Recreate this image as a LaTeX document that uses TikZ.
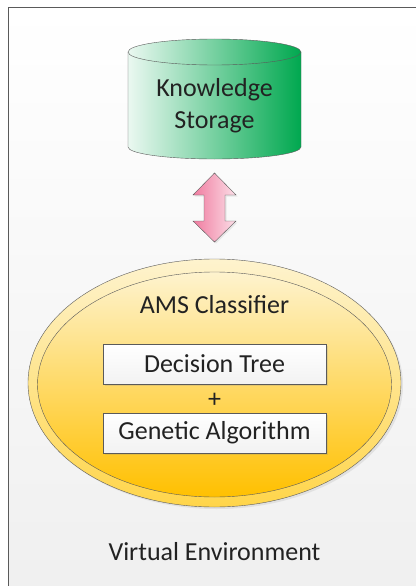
\documentclass[tikz,border=0pt]{standalone}
\usepackage{fontspec}
\setmainfont{Carlito}
\usetikzlibrary{shapes.geometric,shadows,positioning}

\definecolor{framegray}{HTML}{5A5A5A}
\definecolor{storegreen}{HTML}{00A84F}
\definecolor{paleyellow}{HTML}{FEF3CE}
\definecolor{gold}{HTML}{FFC000}
\definecolor{ringgold}{HTML}{FFD54A}
\definecolor{linkpink}{HTML}{F07CA0}
\definecolor{textgray}{HTML}{222222}

\tikzset{
  label text/.style={font=\fontsize{26}{32}\selectfont, text=textgray, align=center, inner sep=0pt},
  algobox/.style={label text, draw=framegray, minimum width=223pt, minimum height=40pt,
    top color=white, bottom color=gray!10,
    drop shadow={shadow xshift=2pt, shadow yshift=-2pt, opacity=0.2}},
  linkarrow/.style={draw=framegray, left color=linkpink, right color=linkpink!25,
    drop shadow={shadow xshift=1.5pt, shadow yshift=-1.5pt, opacity=0.15}}
}

\begin{document}
\begin{tikzpicture}[x=1pt,y=1pt]
  \useasboundingbox (0,0) rectangle (415,-586);

  % frame of the environment
  \fill[top color=white, bottom color=gray!12] (8,-7) rectangle (420,-590);
  \draw[framegray, thick] (8,-590) -- (8,-7) -- (420,-7);

  % storage cylinder
  \path[draw=framegray, left color=storegreen!8, right color=storegreen]
    (128,-52) -- (128,-147) arc[start angle=180, end angle=360, x radius=86.5, y radius=12]
    -- (301,-52) arc[start angle=0, end angle=180, x radius=86.5, y radius=13] -- cycle;
  \draw[framegray] (128,-52) arc[start angle=180, end angle=360, x radius=86.5, y radius=13];
  \node[label text] (store) at (214.5,-106) {Knowledge\\Storage};

  % classifier ellipse
  \node[ellipse, draw=framegray, minimum width=373pt, minimum height=248pt,
    top color=paleyellow, bottom color=ringgold,
    drop shadow={shadow xshift=2pt, shadow yshift=-2pt, opacity=0.15}] (ams) at (214.5,-383) {};
  \node[ellipse, draw=framegray, minimum width=354pt, minimum height=225pt,
    top color=paleyellow, bottom color=gold] (amsin) at (214.5,-384.5) {};
  \node[label text] (amstitle) at (214.5,-305) {AMS Classifier};

  % link between storage and classifier
  \coordinate (linktop) at (214.5,-173);
  \path[linkarrow] (linktop) -- ++(21.5,-22) -- ++(-11,0) -- ++(0,-26) -- ++(11,0)
    -- ++(-21.5,-21) -- ++(-21.5,21) -- ++(11,0) -- ++(0,26) -- ++(-11,0) -- cycle;

  % algorithms
  \node[algobox] (tree) at (214.5,-364) {Decision Tree};
  \node[label text] (plus) at (214.5,-400) {+};
  \node[algobox] (gene) at (214.5,-433) {Genetic Algorithm};

  \node[label text] (env) at (214.5,-552) {Virtual Environment};
\end{tikzpicture}
\end{document}
